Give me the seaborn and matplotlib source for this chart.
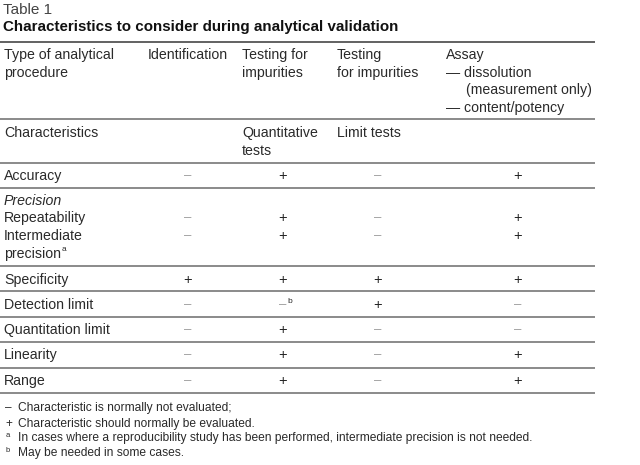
import matplotlib
matplotlib.use("Agg")
import matplotlib.pyplot as plt
import seaborn as sns

# Table content
title_small = "Table 1"
title_bold = "Characteristics to consider during analytical validation"

header_cols = [
    ["Type of analytical", "procedure"],
    ["Identification"],
    ["Testing for", "impurities"],
    ["Testing", "for impurities"],
    ["Assay", "\u2014 dissolution", "   (measurement only)", "\u2014 content/potency"],
]
sub_header = ["Characteristics", "", "Quantitative\ntests", "Limit tests", ""]

characteristics = ["Accuracy", "Precision", "Repeatability", "Intermediate",
                   "Specificity", "Detection limit", "Quantitation limit",
                   "Linearity", "Range"]
identification = ["-", None, "-", "-", "+", "-", "-", "-", "-"]
quantitative = ["+", None, "+", "+", "+", "-b", "+", "+", "+"]
limit_tests = ["-", None, "-", "-", "+", "+", "-", "-", "-"]
assay = ["+", None, "+", "+", "+", "-", "-", "+", "+"]

footnotes = [
    ("\u2013", "Characteristic is normally not evaluated;"),
    ("+", "Characteristic should normally be evaluated."),
    ("a", "In cases where a reproducibility study has been performed, intermediate precision is not needed."),
    ("b", "May be needed in some cases."),
]

sns.set_theme(style="white")
plt.rcParams["font.family"] = ["Liberation Sans", "DejaVu Sans"]

fig = plt.figure(figsize=(6.4, 4.65), dpi=100)
ax = fig.add_axes([0, 0, 1, 1])
ax.set_xlim(0, 640)
ax.set_ylim(465, 0)
ax.axis("off")

txt = "#2a2a2a"
fs = 10.2

ax.text(3, 10, title_small, fontsize=11, color="#444", va="center")
ax.text(3, 27, title_bold, fontsize=10.9, fontweight="bold", color="#111", va="center")

# header
col_x = [4, 148, 242, 337, 446]
for x, lines in zip(col_x, header_cols):
    for i, line in enumerate(lines):
        if line.startswith("   "):
            ax.text(x + 20, 55 + i * 17.7, line.strip(), fontsize=fs, color=txt, va="center")
        else:
            ax.text(x, 55 + i * 17.7, line, fontsize=fs, color=txt, va="center")

for x, s in zip(col_x, sub_header):
    for i, line in enumerate(s.split("\n")):
        if line:
            ax.text(x, 133 + i * 17.5, line, fontsize=fs, color=txt, va="center")

renderer = fig.canvas.get_renderer()

# rows
row_y = [176, 201, 218, 236, 280, 305, 330, 355, 381]
sym_x = [188, 283, 378, 518]
for y, name, vals in zip(row_y, characteristics,
                         zip(identification, quantitative, limit_tests, assay)):
    style = "italic" if name == "Precision" else "normal"
    ax.text(4, y, name, fontsize=fs, color=txt, va="center", style=style)
    if name == "Intermediate":
        t = ax.text(4, y + 17.5, "precision", fontsize=fs, color=txt, va="center")
        bb = t.get_window_extent(renderer)
        xe = ax.transData.inverted().transform((bb.x1, bb.y0))[0]
        ax.text(xe + 0.5, y + 13.5, "a", fontsize=6, color=txt, va="center")
    for x, v in zip(sym_x, vals):
        if v is None:
            continue
        if v.startswith("+"):
            ax.text(x, y, "+", fontsize=10.5, color="#222", ha="center", va="center")
        else:
            ax.text(x, y, "\u2013", fontsize=9.5, color="#999", ha="center", va="center")
            if v.endswith("b"):
                ax.text(x + 4.5, y - 4, "b", fontsize=6, color=txt, va="center")

# horizontal rules
rule_y = [119, 163, 188, 266, 291, 317, 342, 368, 393]
ax.hlines(42, 0, 595, color="#555", lw=1.3)
ax.hlines(rule_y, 0, 595, color="#777", lw=1.2)

# footnotes
foot_y = [408, 424, 438, 453]
for y, (mark, note) in zip(foot_y, footnotes):
    if mark in ("a", "b"):
        ax.text(6, y - 3, mark, fontsize=5.5, color=txt, va="center")
    else:
        ax.text(5, y, mark, fontsize=8.5, color=txt, va="center")
    ax.text(18, y, note, fontsize=8.65, color=txt, va="center")

fig.savefig("out.png", dpi=100)
